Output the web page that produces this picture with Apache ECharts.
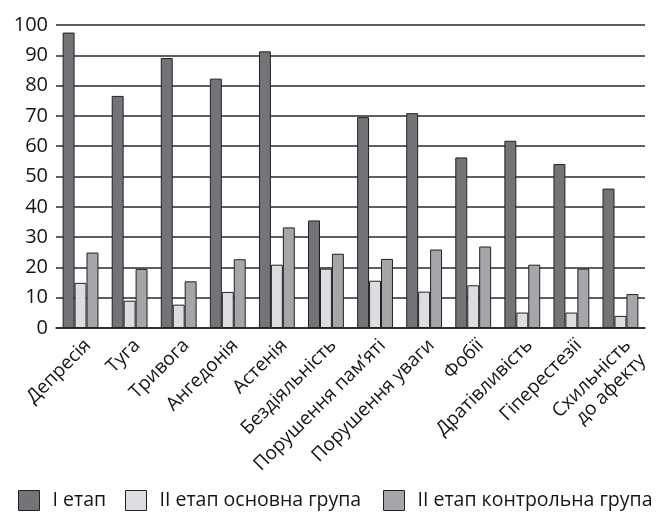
<!DOCTYPE html>
<html><head><meta charset="utf-8">
<script src="https://cdn.jsdelivr.net/npm/echarts@6/dist/echarts.min.js"></script>
<style>html,body{margin:0;padding:0;background:#fff}#c{width:661px;height:514px}</style>
</head><body><div id="c"></div>
<script>
const categories = ['Депресія','Туга','Тривога','Ангедонія','Астенія','Бездіяльність','Порушення пам\u2019яті','Порушення уваги','Фобії','Дратівливість','Гіперестезії','Схильність\nдо афекту'];
const stage1 = [97.5, 76.6, 89.1, 82.3, 91.3, 35.5, 69.6, 70.9, 56.3, 61.8, 54.1, 46.0];
const stage2Main = [14.9, 9.0, 7.7, 11.9, 20.9, 19.6, 15.6, 12.0, 14.1, 5.1, 5.1, 4.0];
const stage2Control = [24.9, 19.5, 15.4, 22.7, 33.2, 24.5, 22.8, 25.9, 26.9, 20.9, 19.6, 11.2];
const seriesNames = ['I етап','II етап основна група','II етап контрольна група'];
const colors = ['#737478','#dcdde0','#a5a6aa'];
const font = 'Open Sans';
const legendLefts = [18, 125, 383];
const chart = echarts.init(document.getElementById('c'));
const mk = (name, data, color) => ({
  name, type: 'bar', data, barGap: '0%', barCategoryGap: '27%',
  itemStyle: { color, borderColor: '#222', borderWidth: 1 }
});
chart.setOption({
  animation: false,
  textStyle: { fontFamily: font },
  grid: { left: 56, right: 16, top: 25, bottom: 186, containLabel: false },
  legend: seriesNames.map((n, i) => ({
    bottom: 3, left: legendLefts[i], padding: 0, itemWidth: 21, itemHeight: 20, icon: 'rect',
    textStyle: { fontFamily: font, fontSize: 19.5, color: '#151515', padding: [0, 0, 0, 8] },
    data: [{ name: n, itemStyle: { color: colors[i], borderColor: '#222', borderWidth: 1 } }]
  })),
  xAxis: {
    type: 'category', data: categories,
    axisLine: { lineStyle: { color: '#222', width: 1.5 } },
    axisTick: { show: false },
    axisLabel: { rotate: 45, interval: 0, fontFamily: font, fontSize: 19, color: '#151515', margin: 7, lineHeight: 21, align: 'right', verticalAlign: 'top' }
  },
  yAxis: {
    type: 'value', min: 0, max: 100, interval: 10,
    axisLine: { show: false }, axisTick: { show: false },
    splitLine: { lineStyle: { color: '#2a2a2a', width: 1.6 } },
    axisLabel: { fontFamily: font, fontSize: 20, color: '#151515', margin: 8 }
  },
  series: [
    mk(seriesNames[0], stage1, colors[0]),
    mk(seriesNames[1], stage2Main, colors[1]),
    mk(seriesNames[2], stage2Control, colors[2])
  ]
});
</script></body></html>
